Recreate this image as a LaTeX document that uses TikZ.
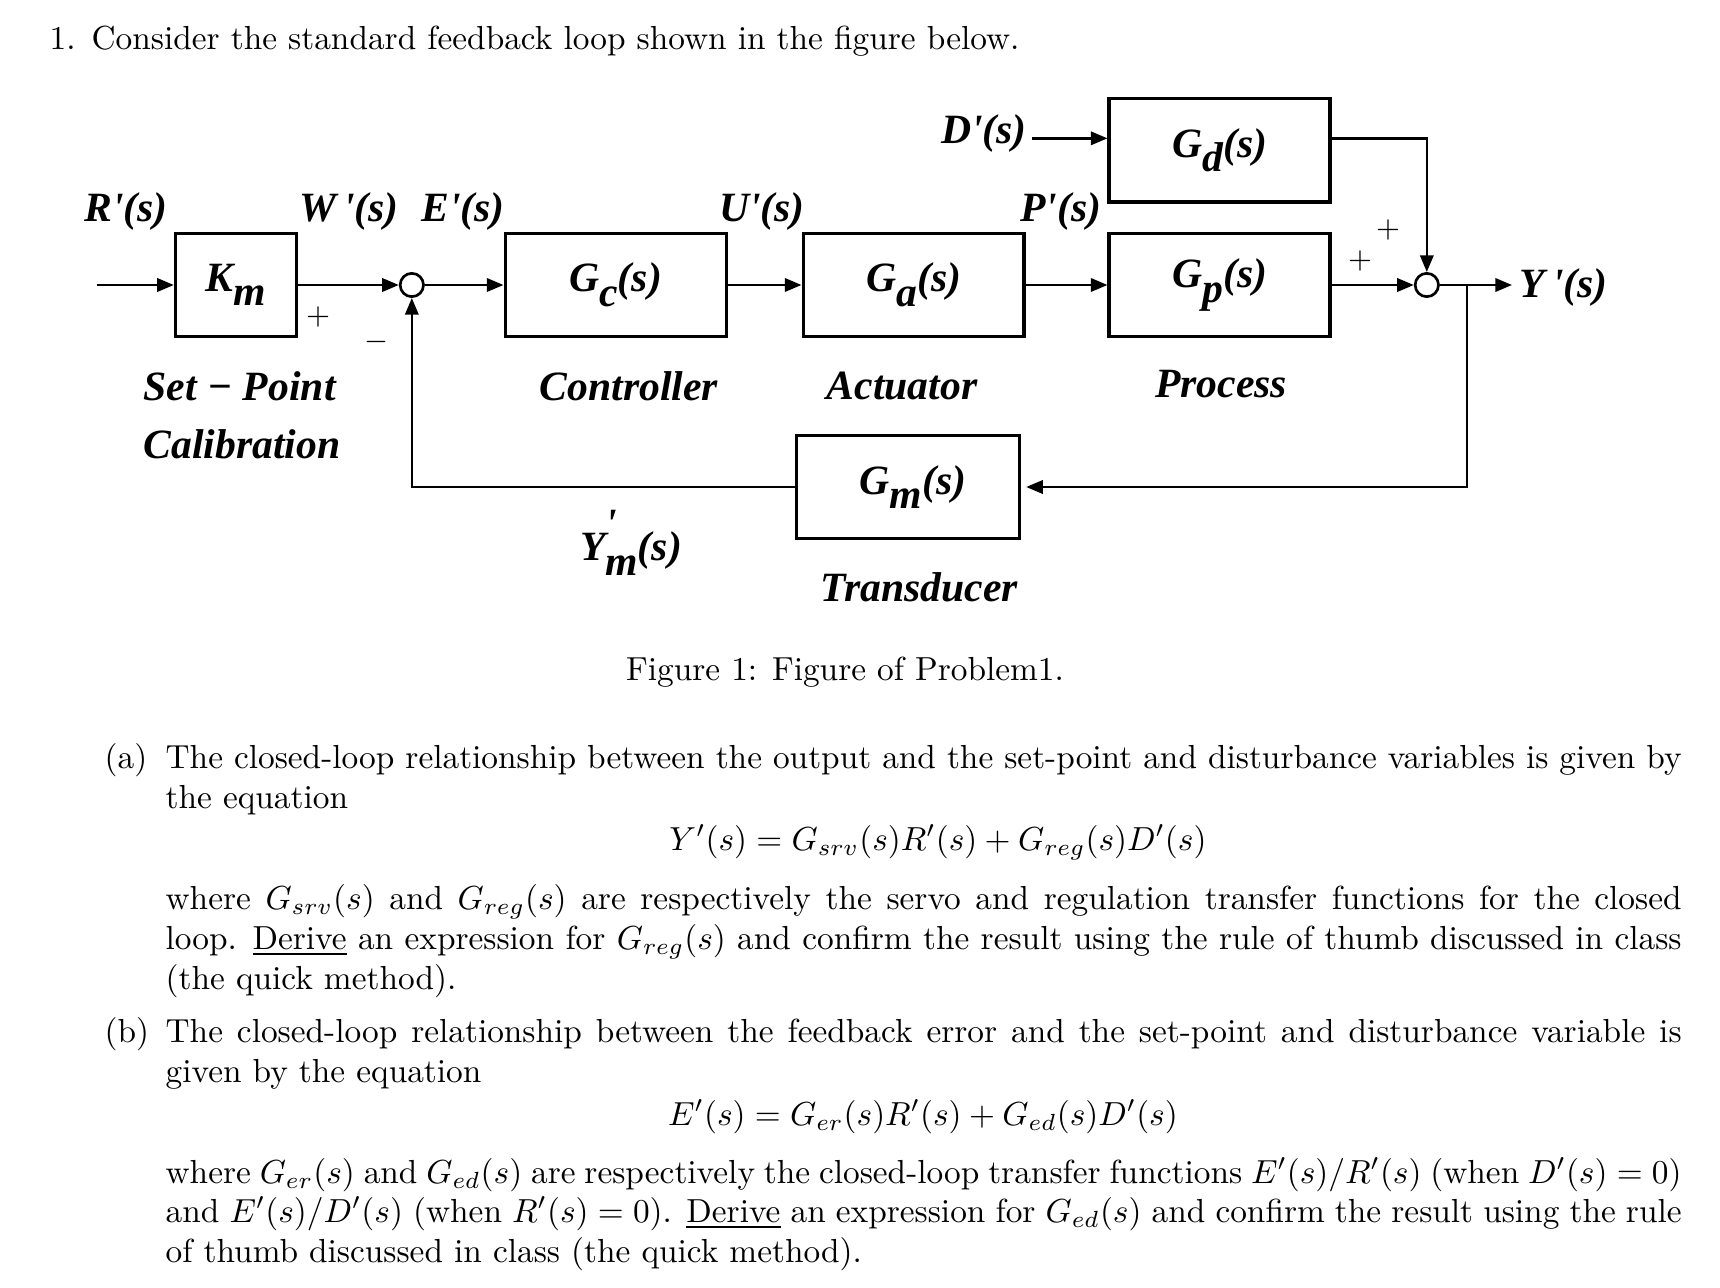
\documentclass[tikz,border=0pt]{standalone}
\usepackage{fontspec}
\newfontfamily\blkfont{Liberation Serif}[BoldItalicFont={Liberation Serif Bold Italic}]
\usetikzlibrary{arrows.meta, positioning}
\newcommand{\blklabel}{\blkfont\bfseries\itshape\fontsize{12.5}{14}\selectfont}
\newcommand{\lsub}[1]{\raisebox{-0.35em}{#1}}
\newcommand{\jline}[1]{\makebox[454.8pt][s]{#1}}
\tikzset{
	blk/.style={draw, line width=1pt, minimum height=31pt, inner sep=0pt, font=\blklabel},
	sumpt/.style={draw, circle, line width=0.8pt, minimum size=7pt, inner sep=0pt},
	sig/.style={-{Triangle[length=5pt,width=4pt]}, line width=0.75pt},
	lbl/.style={inner sep=0pt, font=\blklabel},
	sgn/.style={inner sep=0pt, font=\small},
	txt/.style={anchor=base west, inner sep=0pt}
}

\begin{document}
\begin{tikzpicture}[x=0.3pt, y=-0.3pt]
	\path[fill=white, use as bounding box] (0,0) rectangle (1720,1288);
	% loop blocks
	\node[blk, minimum width=36.3pt] (km) at (236,285) {K\lsub{m}};
	\node[sumpt, right=30.2pt of km] (sum1) {};
	\node[blk, minimum width=66.3pt, right=23.6pt of sum1] (gc) {G\lsub{c}(s)};
	\node[blk, minimum width=66.3pt, right=22.1pt of gc] (ga) {G\lsub{a}(s)};
	\node[blk, minimum width=66.3pt, right=24.5pt of ga] (gp) {G\lsub{p}(s)};
	\node[sumpt, right=24.6pt of gp] (sum2) {};
	\node[blk, minimum width=66.3pt, above=8.4pt of gp] (gd) {G\lsub{d}(s)};
	\node[blk, minimum width=66.9pt] (gm) at (908,487) {\hspace{3pt}G\lsub{m}(s)};
	\coordinate (rin) at (97,285);
	\coordinate (dtap) at ([yshift=3.6pt]gd.west);
	\coordinate (din) at ([xshift=-22.5pt]dtap);
	\coordinate (gdout) at ([yshift=3.6pt]gd.east);
	\coordinate (yend) at (1512,285);
	\coordinate (br) at (1467,285);
	% signals
	\draw[sig] (rin) -- (km);
	\draw[sig] (km) -- (sum1);
	\draw[sig] (sum1) -- (gc);
	\draw[sig] (gc) -- (ga);
	\draw[sig] (ga) -- (gp);
	\draw[sig] (gp) -- (sum2);
	\draw[sig] (din) -- (dtap);
	\draw[sig] (gdout) -| (sum2);
	\draw[sig] (sum2) -- (yend);
	\draw[sig, shorten >=1.5pt] (br) |- (gm);
	\draw[sig] (gm) -| (sum1);
	% signal names
	\node[lbl, anchor=east] (dlab) at ([xshift=-1.5pt, yshift=1.6pt]din) {D'(s)};
	\node[lbl] (rlab) at (126,211) {R'(s)};
	\node[lbl] (wlab) at (349,211) {W\,'(s)};
	\node[lbl] (elab) at (463,211) {E'(s)};
	\node[lbl] (ulab) at (762,211) {U'(s)};
	\node[lbl] (plab) at (1061,211) {P'(s)};
	\node[lbl, anchor=west] (ylab) at (1519,287) {Y\,'(s)};
	\node[lbl] (ymlab) at (631,543) {Y\rlap{\raisebox{0.55em}{'}}\lsub{m}(s)};
	% block captions
	\node[lbl, anchor=west] (kmcap) at (143,386) {Set − Point};
	\node[lbl, anchor=west] (kmcap2) at (143,444) {Calibration};
	\node[lbl] (gccap) at (629,386) {Controller};
	\node[lbl] (gacap) at (902,386) {Actuator};
	\node[lbl] (gpcap) at (1221,384) {Process};
	\node[lbl] (gmcap) at (919,587) {Transducer};
	% signs
	\node[sgn] (pl1) at (318,317) {$+$};
	\node[sgn] (mi1) at (376,342) {$-$};
	\node[sgn] (pl2) at (1388,230) {$+$};
	\node[sgn] (pl3) at (1360,261) {$+$};
	% problem text
	\node[txt] (num) at (49,50) {1.};
	\node[txt] (intro) at (91,50) {Consider the standard feedback loop shown in the figure below.};
	\node[txt, anchor=base] (figcap) at (845,680) {Figure 1: Figure of Problem1.};
	\node[txt] (ia) at (104,768) {(a)};
	\node[txt] (a1) at (165,768) {\jline{The closed-loop relationship between the output and the set-point and disturbance variables is given by}};
	\node[txt] (a2) at (165,808) {the equation};
	\node[txt, anchor=base] (eqa) at (938,850) {$Y'(s) = G_{srv}(s)R'(s) + G_{reg}(s)D'(s)$};
	\node[txt] (a3) at (165,909) {\jline{where $G_{srv}(s)$ and $G_{reg}(s)$ are respectively the servo and regulation transfer functions for the closed}};
	\node[txt] (a4) at (165,949) {\jline{loop. \underline{Derive} an expression for $G_{reg}(s)$ and confirm the result using the rule of thumb discussed in class}};
	\node[txt] (a5) at (165,989) {(the quick method).};
	\node[txt] (ib) at (104,1042) {(b)};
	\node[txt] (b1) at (165,1042) {\jline{The closed-loop relationship between the feedback error and the set-point and disturbance variable is}};
	\node[txt] (b2) at (165,1082) {given by the equation};
	\node[txt, anchor=base] (eqb) at (923,1125) {$E'(s) = G_{er}(s)R'(s) + G_{ed}(s)D'(s)$};
	\node[txt] (b3) at (165,1183) {\jline{where $G_{er}(s)$ and $G_{ed}(s)$ are respectively the closed-loop transfer functions $E'(s)/R'(s)$ (when $D'(s) = 0$)}};
	\node[txt] (b4) at (165,1222) {\jline{and $E'(s)/D'(s)$ (when $R'(s) = 0$). \underline{Derive} an expression for $G_{ed}(s)$ and confirm the result using the rule}};
	\node[txt] (b5) at (165,1262) {of thumb discussed in class (the quick method).};
\end{tikzpicture}
\end{document}
